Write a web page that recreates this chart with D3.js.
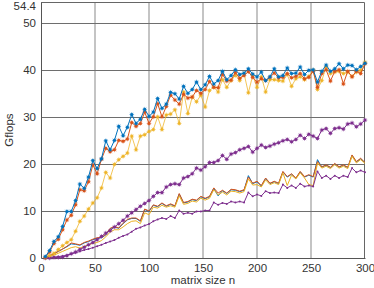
<!DOCTYPE html>
<html>
<head>
<meta charset="utf-8">
<script src="https://cdn.jsdelivr.net/npm/d3@7"></script>
<style>
  body { margin: 0; background: #fff; }
  svg { display: block; font-family: "Liberation Sans", Arial, sans-serif; }
</style>
</head>
<body>
<div class="chart"></div>
<script>
  'use strict';

  // matrix sizes n = 4, 8, ..., 300
  var sizes = d3.range(4, 301, 4);

  // upper bundle (star / dot markers)
  var blueStar = [0.3,1.6,3.5,4.5,6.7,9.9,9.9,12.2,15.7,14.8,
    17.2,20.7,19.0,21.1,24.9,23.0,25.0,28.0,26.0,27.8,
    30.5,28.6,29.5,31.6,30.1,31.0,33.9,31.8,32.7,35.2,
    34.9,33.8,36.5,35.0,35.8,37.4,35.8,36.8,38.6,37.0,
    37.7,39.7,37.9,38.8,40.0,39.0,39.3,40.2,39.1,38.5,
    39.5,37.7,38.5,40.2,38.5,38.8,40.4,39.2,39.3,40.6,
    39.0,39.9,40.0,37.4,39.7,41.0,39.7,40.2,41.3,40.2,
    41.0,40.9,40.0,40.7,41.4];
  var redStar = [0.1,1.3,3.1,4.0,6.0,8.1,9.1,11.3,14.5,14.3,
    16.2,19.8,17.9,21.0,23.3,22.6,23.0,25.0,24.8,25.3,
    28.8,28.0,28.6,31.0,28.6,30.0,32.8,30.0,32.2,34.6,
    33.6,32.7,34.8,34.0,34.2,35.6,35.0,35.8,37.5,36.3,
    36.2,39.0,37.6,37.8,39.4,38.2,38.8,39.6,38.4,37.4,
    38.1,37.7,38.4,39.3,38.3,38.4,39.2,38.3,38.6,39.2,
    38.1,38.4,39.7,36.3,39.2,40.0,37.6,39.7,40.0,37.0,
    39.7,38.5,39.7,39.2,41.3];
  var yellowDot = [0.1,0.5,1.0,1.8,2.6,3.3,3.9,5.7,7.8,8.9,
    10.4,11.7,12.8,14.9,18.2,17.0,19.9,20.9,21.6,22.3,
    25.9,23.0,25.9,26.2,26.9,27.3,30.0,27.3,30.4,30.6,
    31.5,28.6,35.3,30.7,34.2,33.2,34.6,32.1,35.6,36.3,
    35.3,37.9,36.3,37.7,38.8,37.7,39.2,35.1,38.8,36.3,
    38.5,35.3,37.9,37.9,37.7,37.6,39.0,36.5,38.1,38.5,
    37.9,38.6,39.9,35.8,37.7,40.6,39.2,39.5,39.7,39.2,
    39.5,38.6,39.5,39.9,41.6];
  var purpleStar = [0.0,0.0,0.1,0.1,0.2,0.5,0.9,1.3,1.8,2.3,
    2.8,3.3,3.9,4.6,5.3,5.8,6.6,7.3,8.0,8.9,
    9.6,10.3,11.0,11.6,12.2,13.1,13.9,13.9,15.1,15.6,
    15.8,15.6,17.0,17.3,17.9,19.1,18.7,19.4,20.3,20.3,
    20.7,21.8,21.0,22.1,22.4,23.0,23.3,23.7,22.5,23.3,
    24.0,23.5,23.8,24.2,24.5,24.9,25.2,24.7,25.2,26.1,
    25.4,26.3,25.9,25.4,27.2,27.5,26.5,27.5,27.7,27.4,
    28.5,28.7,27.9,28.5,29.3];

  // lower bundle (plain lines)
  var blueLine = [0.1,0.5,0.9,1.4,1.9,2.4,3.0,2.9,2.7,3.2,
    3.5,3.9,4.2,4.3,4.9,6.2,6.6,6.3,7.3,8.1,
    8.4,8.4,7.8,10.3,9.9,11.2,10.9,11.6,11.0,11.4,
    11.0,13.6,11.7,11.9,12.4,12.2,13.0,12.6,13.0,14.8,
    13.2,14.3,13.7,14.5,14.4,14.1,14.4,17.5,15.8,16.2,
    15.3,16.9,15.8,16.2,15.8,18.3,17.2,17.8,16.9,18.3,
    17.2,17.6,17.2,20.9,19.3,19.7,19.2,20.0,19.3,19.7,
    19.2,21.8,20.4,21.1,20.2];
  var redLine = [0.1,0.5,0.9,1.4,1.9,2.5,3.2,3.0,2.8,3.3,
    3.6,4.0,4.3,4.4,5.0,6.3,6.7,6.4,7.4,8.2,
    8.5,8.5,7.9,10.4,10.0,11.3,11.0,11.7,11.1,11.5,
    11.1,13.7,11.8,12.0,12.5,12.3,13.1,12.7,13.1,14.9,
    13.8,14.4,13.8,14.6,14.5,14.2,14.5,17.2,15.9,16.3,
    15.4,17.0,15.9,16.3,15.9,18.4,17.3,17.9,17.0,18.4,
    17.3,17.7,17.3,20.5,19.4,19.8,19.3,20.1,19.4,19.8,
    19.3,21.9,20.5,21.2,20.3];
  var yellowLine = [0.1,0.3,0.6,1.0,1.4,1.8,2.2,2.4,2.1,2.5,
    2.8,3.1,3.3,3.7,4.5,5.5,6.0,6.0,6.6,7.3,
    7.8,7.9,7.3,9.6,9.2,10.8,10.6,11.2,10.8,11.1,
    10.8,13.2,11.4,11.6,12.1,11.9,12.7,12.3,12.7,14.5,
    13.4,14.0,13.4,14.2,14.1,13.8,14.1,16.8,15.5,15.6,
    15.1,16.6,15.6,16.0,15.6,18.1,15.4,17.6,16.8,18.1,
    17.0,15.6,15.4,20.2,19.1,19.5,19.0,19.8,19.1,19.5,
    19.0,21.6,20.2,20.9,20.1];
  var purpleLine = [0.0,0.1,0.2,0.3,0.4,0.6,0.9,1.1,1.4,1.7,
    1.9,2.2,2.5,2.8,3.2,3.5,3.8,4.3,4.7,5.0,
    5.6,6.2,6.5,6.9,7.2,7.8,8.2,8.5,8.3,8.9,
    8.5,10.1,9.4,9.6,9.4,9.9,9.9,10.1,10.1,11.8,
    11.3,11.7,11.5,12.0,11.8,12.0,11.8,13.9,13.1,13.5,
    13.2,14.2,13.8,13.9,13.8,15.6,14.9,15.4,14.9,15.8,
    15.2,15.4,15.2,18.4,17.0,17.5,16.8,17.5,17.0,17.5,
    17.2,19.1,18.2,18.6,18.2];

  var xTicks = [0, 50, 100, 150, 200, 250, 300];
  var yTicks = [0, 10, 20, 30, 40, 50, 54.4];

  var width = 374,
      height = 288,
      margin = {top: 2, right: 9, bottom: 30, left: 41};

  var svg = d3.select('.chart')
    .append('svg')
    .attr('width', width)
    .attr('height', height);

  var x = d3.scaleLinear().domain([0, 300]).range([margin.left, width - margin.right]);
  var y = d3.scaleLinear().domain([0, 54.4]).range([height - margin.bottom, margin.top]);

  // grid: vertical lines look soft grey, horizontal ones darker
  svg.append('g').selectAll('line').data(xTicks.slice(1, -1)).enter().append('line')
    .attr('x1', function(d) { return x(d); })
    .attr('x2', function(d) { return x(d); })
    .attr('y1', y(0)).attr('y2', y(54.4))
    .attr('stroke', '#c4c4c4')
    .attr('stroke-width', 2);

  svg.append('g').selectAll('line').data(yTicks.slice(1, -1)).enter().append('line')
    .attr('x1', x(0)).attr('x2', x(300))
    .attr('y1', function(d) { return Math.round(y(d)) + 0.5; })
    .attr('y2', function(d) { return Math.round(y(d)) + 0.5; })
    .attr('stroke', '#6e6e6e')
    .attr('stroke-width', 1);

  // axes
  var xAxis = d3.axisBottom(x).tickValues(xTicks).tickSize(0).tickPadding(6);
  var yAxis = d3.axisLeft(y).tickValues(yTicks).tickSize(0).tickPadding(5)
    .tickFormat(function(d) { return d === 54.4 ? '54.4' : d; });

  var gx = svg.append('g').attr('transform', 'translate(0,' + y(0) + ')').call(xAxis);
  var gy = svg.append('g').attr('transform', 'translate(' + x(0) + ',0)').call(yAxis);
  [gx, gy].forEach(function(g) {
    g.select('.domain').attr('stroke', '#555');
    g.selectAll('text').attr('fill', '#333').style('font-size', '11.5px');
  });
  // top label would be clipped, nudge it down a bit
  gy.selectAll('text').filter(function(d) { return d === 54.4; }).attr('dy', '0.62em');

  // box top + right
  svg.append('path')
    .attr('d', 'M' + x(0) + ',' + (y(54.4) + 0.5) + 'H' + (x(300) - 0.5) + 'V' + y(0))
    .attr('fill', 'none')
    .attr('stroke', '#666');

  svg.append('text')
    .attr('x', (x(0) + x(300)) / 2).attr('y', 284)
    .attr('text-anchor', 'middle')
    .attr('fill', '#333').style('font-size', '11.5px')
    .text('matrix size n');

  svg.append('text')
    .attr('transform', 'translate(13,' + ((y(0) + y(54.4)) / 2) + ') rotate(-90)')
    .attr('text-anchor', 'middle')
    .attr('fill', '#333').style('font-size', '11.5px')
    .text('Gflops');

  var series = [
    {data: blueLine,   color: '#0072BD', marker: null},
    {data: redLine,    color: '#D95319', marker: null},
    {data: yellowLine, color: '#EDB120', marker: null},
    {data: purpleLine, color: '#7E2F8E', marker: 'dot'},
    {data: purpleStar, color: '#7E2F8E', marker: 'star'},
    {data: yellowDot,  color: '#EDB120', marker: 'star'},
    {data: redStar,    color: '#D95319', marker: 'star'},
    {data: blueStar,   color: '#0072BD', marker: 'star'}
  ];

  var line = d3.line()
    .x(function(d, i) { return x(sizes[i]); })
    .y(function(d) { return y(d); });

  // little asterisk like matlab's '*'
  var starPath = (function(r) {
    var p = '';
    [0, 45, 90, 135].forEach(function(a) {
      var dx = r * Math.cos(a * Math.PI / 180), dy = r * Math.sin(a * Math.PI / 180);
      p += 'M' + (-dx) + ',' + (-dy) + 'L' + dx + ',' + dy;
    });
    return p;
  })(2.4);

  series.forEach(function(s) {
    var g = svg.append('g');
    var pale = s.color === '#EDB120' && s.marker;
    g.append('path')
      .attr('d', line(s.data))
      .attr('fill', 'none')
      .attr('stroke', s.color)
      .attr('stroke-opacity', pale ? 0.75 : 1)
      .attr('stroke-width', 1);

    if (s.marker === 'dot') {
      g.selectAll('circle').data(s.data).enter().append('circle')
        .attr('cx', function(d, i) { return x(sizes[i]); })
        .attr('cy', function(d) { return y(d); })
        .attr('r', 1)
        .attr('fill', s.color);
    } else if (s.marker === 'star') {
      var m = g.selectAll('g').data(s.data).enter().append('g')
        .attr('transform', function(d, i) { return 'translate(' + x(sizes[i]) + ',' + y(d) + ')'; });
      m.append('path')
        .attr('d', starPath)
        .attr('stroke', s.color)
        .attr('stroke-opacity', 0.45)
        .attr('stroke-width', 1);
      m.append('circle')
        .attr('r', 1.5)
        .attr('fill', s.color)
        .attr('fill-opacity', pale ? 0.8 : 1);
    }
  });
</script>
</body>
</html>
